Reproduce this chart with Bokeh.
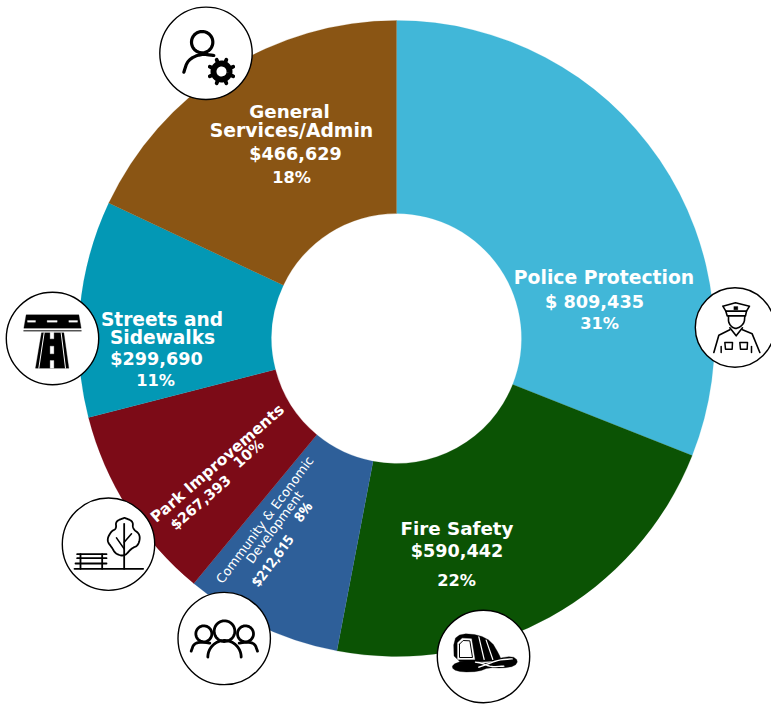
from bokeh.plotting import figure
from bokeh.models import ColumnDataSource, Range1d
from bokeh.embed import file_html
from bokeh.resources import INLINE
from bokeh.core.properties import value
import numpy as np

categories = ["Police Protection", "Fire Safety", "Community & Economic Development",
              "Park Improvements", "Streets and Sidewalks", "General Services/Admin"]
amounts = [809435, 590442, 212615, 267393, 299690, 466629]
percents = [31, 22, 8, 10, 11, 18]
colors = ["#41B7D8", "#0B5304", "#2E5F99", "#7C0B17", "#0398B5", "#8A5514"]

W, H = 771, 704
CX, CY, R_OUT, R_IN = 396, 338, 318, 125
FONT = value("DejaVu Sans")


def Y(y):
    return H - y


p = figure(width=W, height=H, x_range=Range1d(0, W), y_range=Range1d(0, H),
           toolbar_location=None, output_backend="svg", min_border=0,
           x_axis_location=None, y_axis_location=None,
           outline_line_color=None, background_fill_color="white", border_fill_color="white")
p.grid.visible = False

frac = np.array(percents, dtype=float) / sum(percents) * 2 * np.pi
ends = np.cumsum(frac)
starts = ends - frac
src = ColumnDataSource(dict(category=categories, amount=amounts, color=colors,
                            start=np.pi / 2 - starts, end=np.pi / 2 - ends))
p.annular_wedge(x=CX, y=Y(CY), inner_radius=R_IN, outer_radius=R_OUT,
                start_angle="start", end_angle="end", direction="clock",
                fill_color="color", line_color="color", line_width=0.2, source=src)


def chaikin(pts, n=2, closed=False):
    pts = [tuple(q) for q in pts]
    for _ in range(n):
        out = []
        m = len(pts)
        for i in range(m if closed else m - 1):
            a, b = np.array(pts[i]), np.array(pts[(i + 1) % m])
            out += [tuple(.75 * a + .25 * b), tuple(.25 * a + .75 * b)]
        pts = out if closed else [pts[0]] + out + [pts[-1]]
    return pts


class Icon:
    def __init__(self, ox, oy, s=1 / 3):
        self.ox, self.oy, self.s = ox, oy, s

    def _xy(self, pts):
        return ([self.ox + q[0] * self.s for q in pts], [Y(self.oy + q[1] * self.s) for q in pts])

    def line(self, pts, w=2.2, color="black"):
        x, y = self._xy(pts)
        p.line(x, y, line_color=color, line_width=w, line_cap="round", line_join="round")

    def fill(self, pts, color="black"):
        x, y = self._xy(pts)
        p.patch(x, y, fill_color=color, line_color=color, line_width=0.3)

    def arc(self, cx, cy, r, a0=0, a1=360, w=2.2, color="black"):
        a = np.radians(np.linspace(a0, a1, 48))
        self.line(list(zip(cx + r * np.cos(a), cy + r * np.sin(a))), w, color)


circles_x = [205.5, 52, 108, 223.7, 483, 734.5]
circles_y = [52.8, 338, 543.7, 638, 656, 327]
circles_r = [46.2, 46.2, 46.2, 46.2, 46.2, 39.7]
p.circle(x=circles_x, y=[Y(v) for v in circles_y], radius=circles_r,
         fill_color="white", line_color="black", line_width=1.4)

# General services: person and gear
ic = Icon(150, 0)
ic.arc(155, 125, 32, w=3.2)
ic.line(chaikin([(100, 215), (112, 178), (150, 160), (190, 165)]), w=3.2)
ic.arc(213, 213, 24, w=6)
for a in np.arange(22.5, 360, 45):
    ca, sa = np.cos(np.radians(a)), np.sin(np.radians(a))
    ic.line([(213 + 30 * ca, 213 + 30 * sa), (213 + 38 * ca, 213 + 38 * sa)], w=3.8)

# Streets: highway junction
ic = Icon(15, 305)
ic.fill([(32, 28), (190, 28), (197, 68), (25, 68)])
for a, b in [(36, 60), (95, 125), (160, 186)]:
    ic.fill([(a, 45), (b, 45), (b, 50), (a, 50)], "white")
ic.line([(25, 76), (197, 76)], w=1)
ic.fill([(78, 82), (145, 82), (160, 188), (60, 188)])
ic.line([(86, 82), (70, 188)], w=1, color="white")
ic.line([(137, 82), (150, 188)], w=1, color="white")
for a, b in [(80, 100), (122, 145), (165, 188)]:
    ic.fill([(104, a), (115, a), (115, b), (104, b)], "white")

# Parks: bench and tree
ic = Icon(0, 280)
ic.line([(222, 865), (428, 865)], w=1.8)
ic.line([(230, 821), (318, 821)], w=1.8)
ic.line([(230, 833), (318, 833)], w=1.8)
ic.line([(225, 849), (318, 849)], w=1.8)
ic.line([(240, 821), (240, 865)], w=1.8)
ic.line([(305, 821), (305, 865)], w=1.8)
ic.line([(371, 730), (371, 865)], w=1.8)
ic.line([(371, 785), (393, 760)], w=1.6)
ic.line([(371, 805), (348, 772)], w=1.6)
crown = [(372, 712), (398, 722), (396, 745), (420, 762), (414, 795), (393, 803), (372, 828),
         (345, 820), (335, 802), (318, 780), (332, 752), (348, 745), (345, 722)]
ic.line(chaikin(crown + [crown[0]], 3), w=1.8)

# Community: three people
ic = Icon(0, 280)
ic.arc(672, 1052, 31, w=2.8)
ic.arc(610, 1060, 24, w=2.8)
ic.arc(735, 1060, 24, w=2.8)
ic.arc(672, 1130, 50, 180, 360, w=2.8)
ic.line(chaikin([(572, 1112), (580, 1090), (600, 1084), (628, 1088)]), w=2.8)
ic.line(chaikin([(771, 1112), (763, 1090), (743, 1084), (716, 1088)]), w=2.8)

# Fire: helmet
ic = Icon(445, 625)
ic.fill(chaikin([(24, 42), (48, 24), (100, 28), (138, 48), (160, 85), (168, 105), (95, 110), (26, 108)], 1, True))
ic.fill([(36, 52), (50, 38), (78, 40), (88, 102), (36, 102)], "white")
ic.line([(42, 56), (53, 45), (73, 46), (81, 96), (42, 96), (42, 56)], w=1)
ic.line([(100, 34), (116, 102)], w=1.2, color="white")
ic.line([(122, 44), (142, 102)], w=1.2, color="white")
ic.fill(chaikin([(20, 118), (50, 106), (90, 106), (125, 116), (160, 98), (200, 92), (218, 105),
                 (208, 122), (170, 128), (130, 126), (100, 138), (50, 140), (22, 132)], 1, True))
ic.line(chaikin([(100, 125), (125, 116), (160, 103), (200, 100)]), w=1.4, color="white")
ic.line(chaikin([(90, 110), (110, 113), (135, 124), (175, 122)]), w=1.4, color="white")

# Police: officer
ic = Icon(700, 290)
ic.line([(67, 47), (105, 37), (147, 47), (138, 62), (76, 62), (67, 47)], w=1.6)
ic.line([(76, 62), (80, 76), (135, 76), (138, 62)], w=1.6)
ic.fill([(100, 48), (112, 48), (112, 58), (100, 58)])
ic.line(chaikin([(84, 76), (84, 100), (105, 118), (131, 100), (133, 76)]), w=1.6)
ic.line([(40, 186), (55, 134), (88, 118)], w=1.6)
ic.line([(178, 186), (155, 130), (126, 118)], w=1.6)
ic.line([(88, 112), (107, 136), (126, 112)], w=1.6)
ic.line([(73, 156), (96, 156), (95, 176), (75, 176), (73, 156)], w=1.5)
ic.line([(118, 156), (141, 156), (140, 176), (120, 176), (118, 156)], w=1.5)
ic.line([(62, 168), (62, 186)], w=1.5)
ic.line([(153, 168), (153, 186)], w=1.5)

labels_text = ["General", "Services/Admin", "$466,629", "18%",
               "Police Protection", "$ 809,435", "31%",
               "Fire Safety", "$590,442", "22%",
               "Streets and", "Sidewalks", "$299,690", "11%",
               "Park Improvements", "$267,393", "10%"]
labels_x = [289, 291, 295, 291, 603.5, 594, 599, 456.5, 456.5, 456, 161.5, 162, 156, 155,
            217, 200, 248]
labels_y = [111, 129.5, 153, 177, 277, 301, 323, 528, 550, 580, 319, 337, 358.5, 380,
            463, 502, 453]
labels_size = [18.3, 18.8, 17.6, 16.2, 18.8, 17.7, 16.2, 18.3, 17.6, 16.2, 18.6, 18.6, 17.6, 16.2,
               15.5, 14.2, 14.5]
labels_rot = [0] * 14 + [41] * 3

lab = ColumnDataSource(dict(t=labels_text, x=labels_x, y=[Y(v) for v in labels_y],
                            s=[f"{v}px" for v in labels_size], a=np.radians(labels_rot)))
p.text(x="x", y="y", text="t", angle="a", text_font_size="s", text_font=FONT, text_font_style="bold",
       text_color="white", text_align="center", text_baseline="middle", source=lab)

small_text = ["Community & Economic", "Development"]
small_x = [264.3, 274]
small_y = [519.3, 526.7]
p.text(x=small_x, y=[Y(v) for v in small_y], text=small_text, angle=np.radians(53.5),
       text_font_size="12.8px", text_font=FONT, text_color="white",
       text_align="center", text_baseline="middle")

narrow_text = ["$212,615", "8%"]
narrow_x = [271.7, 302.3]
narrow_y = [560, 511]
p.text(x=narrow_x, y=[Y(v) for v in narrow_y], text=narrow_text, angle=np.radians(53.5),
       text_font_size="14px", text_font=value("Open Sans"), text_font_style="bold", text_color="white",
       text_align="center", text_baseline="middle")

open("out.html", "w").write(file_html(p, INLINE))
